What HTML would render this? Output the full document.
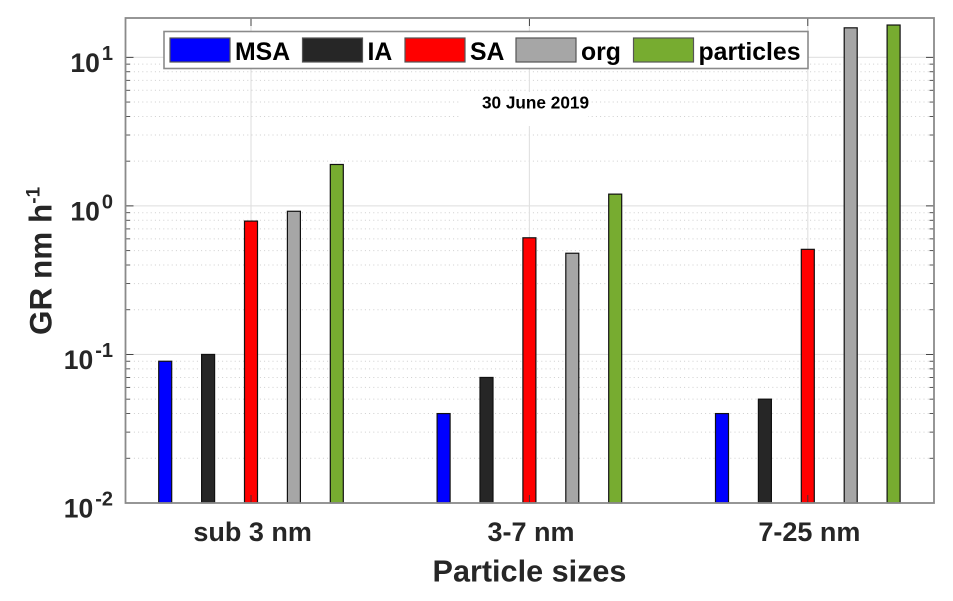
<!DOCTYPE html>
<html lang="en">
<head>
<meta charset="utf-8">
<title>Growth rates by particle size, 30 June 2019</title>
<style>
html,body{margin:0;padding:0;background:#fff;}
svg{display:block;font-family:"Liberation Sans",Arial,sans-serif;}
</style>
</head>
<body>
<svg id="chart" xmlns="http://www.w3.org/2000/svg" width="953" height="601" viewBox="0 0 953 601">
  <rect x="0" y="0" width="953" height="601" fill="#ffffff"/>
  <g id="grid"></g>
  <rect x="460" y="92" width="128" height="34" fill="#ffffff"/>
  <g id="ticks"></g>
  <g id="bars"></g>
  <rect x="125.5" y="18" width="808.5" height="485" fill="none" stroke="#8a8a8a" stroke-width="1.8"/>
  <g id="ylabels"></g>
  <g id="xlabels"></g>
  <text x="535.5" y="108.5" text-anchor="middle" font-size="17.2" font-weight="700" fill="#000000">30 June 2019</text>
  <text x="529.5" y="581.5" text-anchor="middle" font-size="30.6" font-weight="700" fill="#262626">Particle sizes</text>
  <text transform="translate(51.5,335) rotate(-90)" font-size="31.5" font-weight="700" fill="#262626">GR nm h<tspan dy="-12" font-size="19">-1</tspan></text>
  <g id="legend">
    <rect x="164" y="31.5" width="644" height="37" fill="#ffffff" stroke="#8a8a8a" stroke-width="1.6"/>
  </g>
</svg>
<script>
const categories = ["sub 3 nm", "3-7 nm", "7-25 nm"];
const seriesNames = ["MSA", "IA", "SA", "org", "particles"];
const msaValues = [0.09, 0.04, 0.04];
const iaValues = [0.1, 0.07, 0.05];
const saValues = [0.79, 0.61, 0.51];
const orgValues = [0.92, 0.48, 15.8];
const particlesValues = [1.9, 1.2, 16.5];
const yTickExponents = [1, 0, -1, -2];
const yMinorMultipliers = [2, 3, 4, 5, 6, 7, 8, 9];
const yDomain = [0.01, 18.4];
const seriesValues = [msaValues, iaValues, saValues, orgValues, particlesValues];
const seriesColors = ["#0000ff", "#262626", "#ff0000", "#a6a6a6", "#77ac30"];
const NS = "http://www.w3.org/2000/svg";
const plot = { left: 125.5, right: 934, top: 18, bottom: 503 };

function yScale(v) {
  const lo = Math.log10(yDomain[0]), hi = Math.log10(yDomain[1]);
  return plot.bottom - (Math.log10(v) - lo) / (hi - lo) * (plot.bottom - plot.top);
}
function xScale(i) {
  return 251 + i * 278.4;
}
function seriesOffset(s) {
  return (s - (seriesNames.length - 1) / 2) * 42.9;
}
function make(tag, attrs, parent) {
  const el = document.createElementNS(NS, tag);
  for (const k in attrs) el.setAttribute(k, attrs[k]);
  parent.appendChild(el);
  return el;
}

const grid = document.getElementById("grid");
const ticks = document.getElementById("ticks");
const bars = document.getElementById("bars");
const ylabels = document.getElementById("ylabels");
const xlabels = document.getElementById("xlabels");
const legend = document.getElementById("legend");

yTickExponents.forEach(function (e) {
  const y = yScale(Math.pow(10, e));
  if (e > -2) {
    const g = make("line", { x1: plot.left, x2: plot.right, y1: y, y2: y, stroke: "#e4e4e4", "stroke-width": 1.2 }, grid);
    
    
    [[plot.left, plot.left + 8], [plot.right - 8, plot.right]].forEach(function (p) {
      const t = make("line", { x1: p[0], x2: p[1], y1: y, y2: y, stroke: "#333333", "stroke-width": 0.9 }, ticks);
      
      
    });
  }
  yMinorMultipliers.forEach(function (m) {
    const v = m * Math.pow(10, e);
    if (v > yDomain[1]) return;
    const my = yScale(v);
    const mg = make("line", { x1: plot.left, x2: plot.right, y1: my, y2: my, stroke: "#cfcfcf", "stroke-width": 1, "stroke-dasharray": "1 3.2" }, grid);
    
    
    [[plot.left, plot.left + 4.5], [plot.right - 4.5, plot.right]].forEach(function (p) {
      const t = make("line", { x1: p[0], x2: p[1], y1: my, y2: my, stroke: "#444444", "stroke-width": 0.9 }, ticks);
      
      
    });
  });
  const label = make("text", { x: 113, y: y + 14.5, "text-anchor": "end", "font-size": 26.5, "font-weight": 700, fill: "#262626" }, ylabels);
  
  
  label.appendChild(document.createTextNode("10"));
  const sup = make("tspan", { dy: -12, dx: 2, "font-size": 20 }, label);
  sup.textContent = String(e);
});

categories.forEach(function (c, i) {
  const x = xScale(i);
  const g = make("line", { x1: x, x2: x, y1: plot.top, y2: plot.bottom, stroke: "#e0e0e0", "stroke-width": 1.1 }, grid);
  
  
  const t1 = make("line", { x1: x, x2: x, y1: plot.top, y2: plot.top + 8, stroke: "#333333", "stroke-width": 0.9 }, ticks);
  
  
  const label = make("text", { x: x + 1.6, y: 541, "text-anchor": "middle", "font-size": 27, "font-weight": 700, fill: "#262626" }, xlabels);
  
  
  label.textContent = c;
});

seriesNames.forEach(function (name, s) {
  seriesValues[s].forEach(function (v, i) {
    const x = xScale(i) + seriesOffset(s);
    const top = yScale(v);
    const bar = make("rect", { x: x - 6.5, y: top, width: 13, height: plot.bottom - top, fill: seriesColors[s], stroke: "#111111", "stroke-width": 1.2 }, bars);
    
    
  });
});
categories.forEach(function (c, i) {
  const x = xScale(i);
  const t2 = make("line", { x1: x, x2: x, y1: plot.bottom - 8, y2: plot.bottom, stroke: "#333333", "stroke-width": 0.9 }, bars);
  
  
});

const legendSwatchStarts = [170, 302.5, 405, 516, 633.5];
seriesNames.forEach(function (name, s) {
  const sx = legendSwatchStarts[s];
  const sw = make("rect", { x: sx, y: 38, width: 60, height: 24, fill: seriesColors[s], stroke: "#555555", "stroke-width": 1.2 }, legend);
  
  
  const t = make("text", { x: sx + 65, y: 60, "font-size": 24.8, "font-weight": 700, fill: "#000000" }, legend);
  
  
  t.textContent = name;
});
</script>
</body>
</html>
